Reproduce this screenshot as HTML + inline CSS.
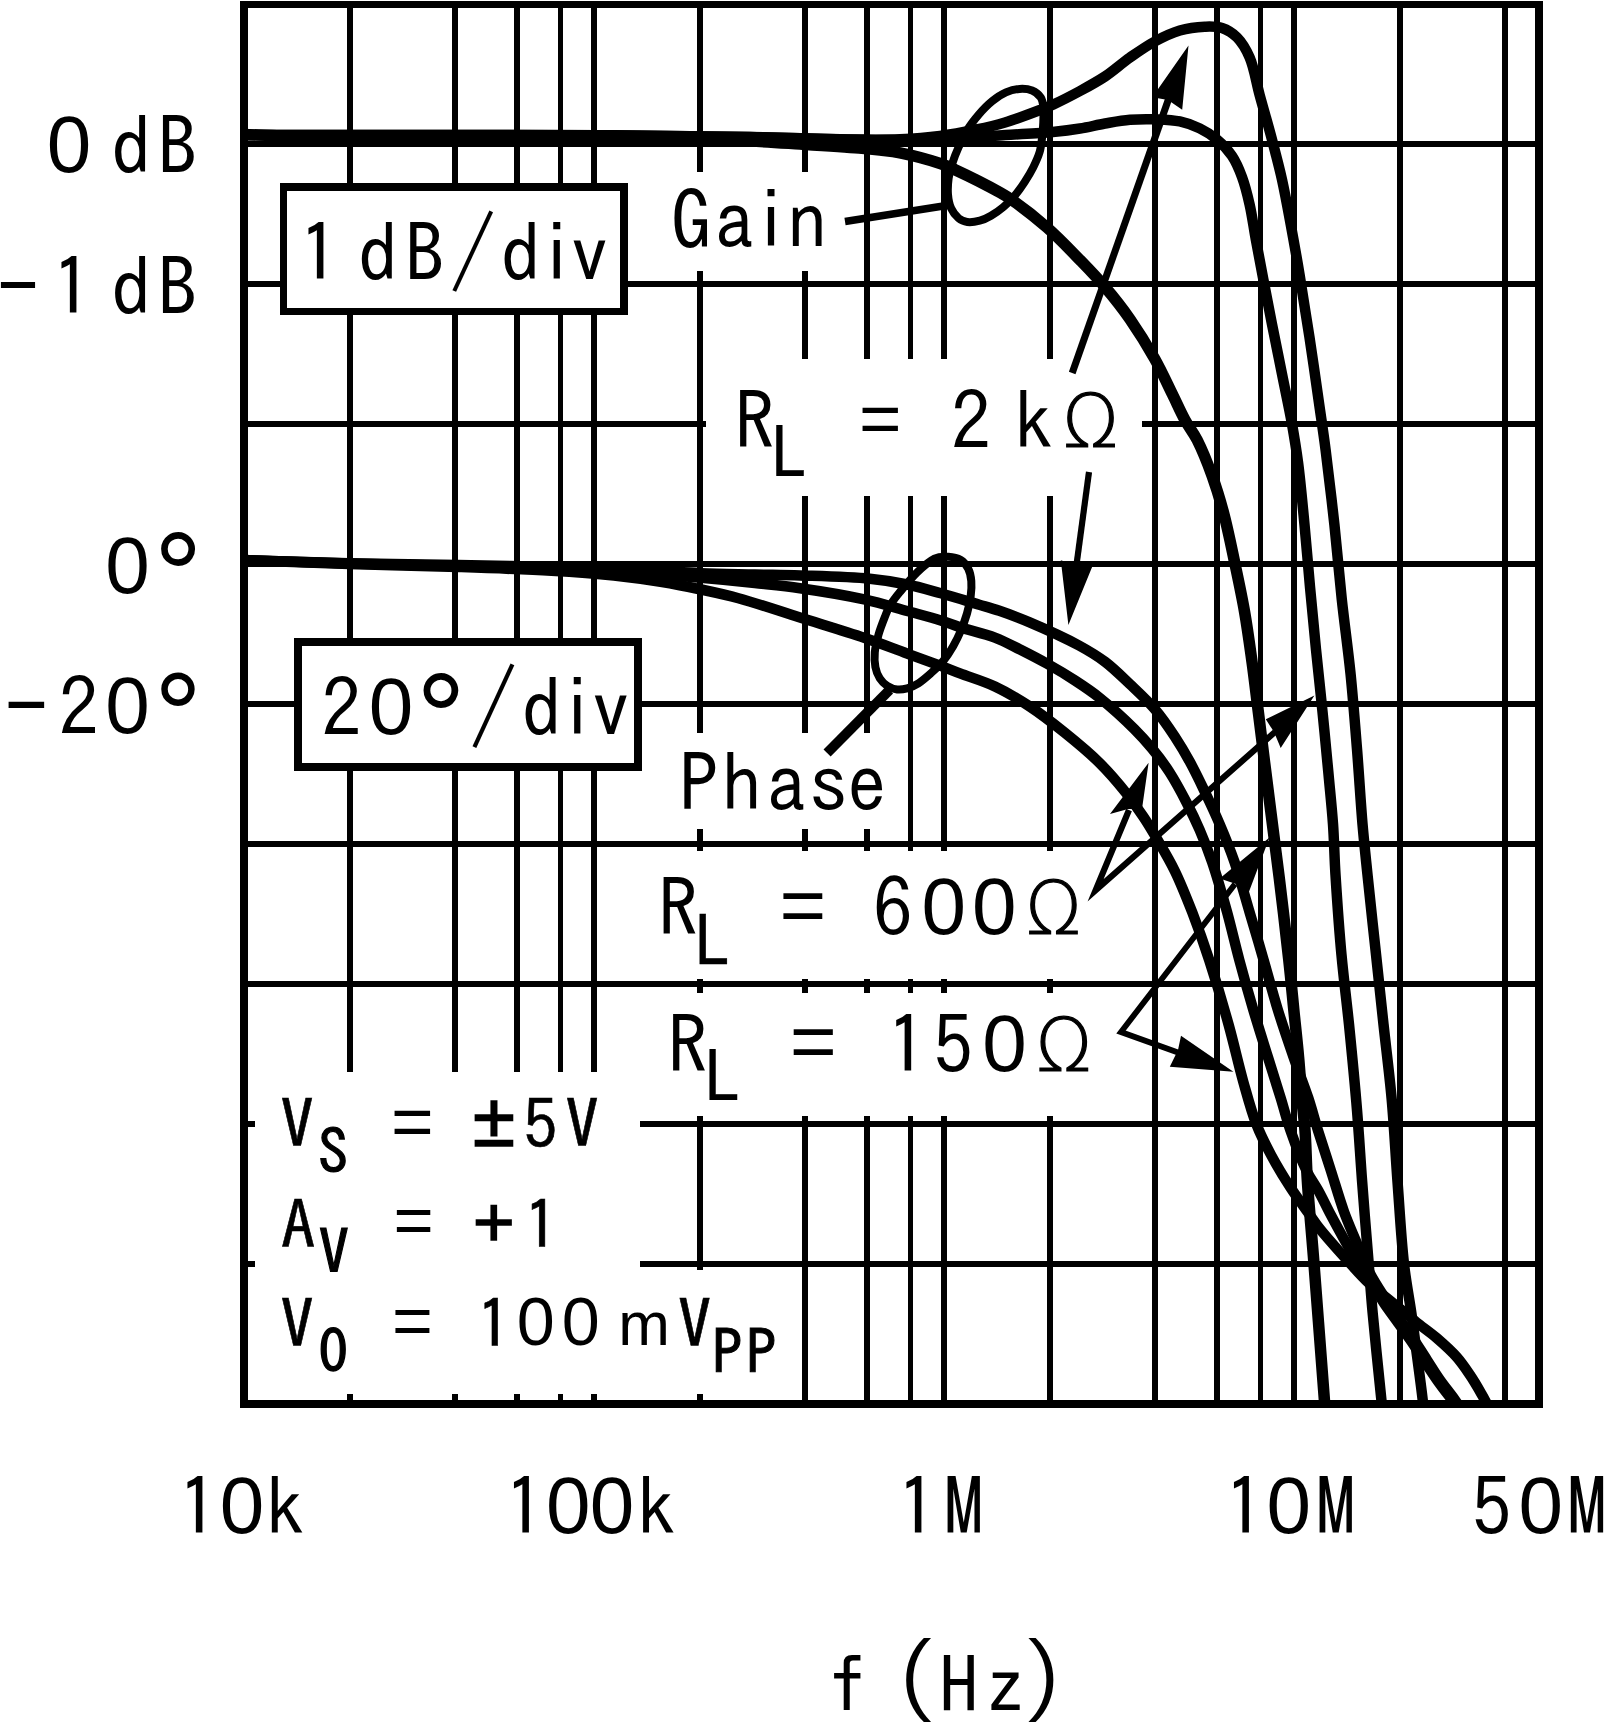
<!DOCTYPE html>
<html lang="en"><head><meta charset="utf-8"><title>Gain and Phase vs. Frequency</title>
<style>
html,body{margin:0;padding:0;background:#fff}
svg{display:block}
text{font-family:"Liberation Sans","DejaVu Sans",sans-serif;white-space:pre;fill:#000}
.s{font-family:"Liberation Sans","DejaVu Sans",sans-serif}
.i{font-family:"IPAGothic","DejaVu Sans Mono","Liberation Mono",monospace}
.m{font-family:"DejaVu Sans Mono","Liberation Mono",monospace}
.r{font-family:"Liberation Serif","DejaVu Serif",serif}
.l{font-family:"DejaVu Sans Light","DejaVu Sans","Liberation Sans",sans-serif;font-weight:200}
</style></head>
<body>
<svg width="1605" height="1724" viewBox="0 0 1605 1724">
<defs><clipPath id="plotclip"><rect x="244" y="4" width="1295" height="1400"/></clipPath></defs>
<rect width="1605" height="1724" fill="#fff"/>
<g id="grid" stroke="#000" stroke-width="5.8" fill="none" shape-rendering="crispEdges">
<line x1="349.7" y1="4" x2="349.7" y2="1404"/>
<line x1="455.0" y1="4" x2="455.0" y2="1404"/>
<line x1="516.7" y1="4" x2="516.7" y2="1404"/>
<line x1="560.4" y1="4" x2="560.4" y2="1404"/>
<line x1="594.3" y1="4" x2="594.3" y2="1404"/>
<line x1="699.7" y1="4" x2="699.7" y2="1404"/>
<line x1="805.0" y1="4" x2="805.0" y2="1404"/>
<line x1="866.7" y1="4" x2="866.7" y2="1404"/>
<line x1="910.4" y1="4" x2="910.4" y2="1404"/>
<line x1="944.3" y1="4" x2="944.3" y2="1404"/>
<line x1="1049.7" y1="4" x2="1049.7" y2="1404"/>
<line x1="1155.0" y1="4" x2="1155.0" y2="1404"/>
<line x1="1216.7" y1="4" x2="1216.7" y2="1404"/>
<line x1="1260.4" y1="4" x2="1260.4" y2="1404"/>
<line x1="1294.3" y1="4" x2="1294.3" y2="1404"/>
<line x1="1399.7" y1="4" x2="1399.7" y2="1404"/>
<line x1="1505.0" y1="4" x2="1505.0" y2="1404"/>
<line x1="244" y1="144" x2="1539" y2="144"/>
<line x1="244" y1="284" x2="1539" y2="284"/>
<line x1="244" y1="424" x2="1539" y2="424"/>
<line x1="244" y1="564" x2="1539" y2="564"/>
<line x1="244" y1="704" x2="1539" y2="704"/>
<line x1="244" y1="844" x2="1539" y2="844"/>
<line x1="244" y1="984" x2="1539" y2="984"/>
<line x1="244" y1="1124" x2="1539" y2="1124"/>
<line x1="244" y1="1264" x2="1539" y2="1264"/>
</g>
<g id="masks" fill="#fff" shape-rendering="crispEdges">
<rect x="668" y="171.5" width="164.0" height="99.5"/>
<rect x="706" y="359" width="436.0" height="137.0"/>
<rect x="678" y="732.6" width="215.0" height="96.4"/>
<rect x="640" y="851" width="470.0" height="128.0"/>
<rect x="640" y="993" width="470.0" height="123.0"/>
<rect x="255" y="1071.5" width="384.5" height="322.8"/>
<rect x="255" y="1270" width="537.0" height="124.3"/>
</g>
<g id="boxes" fill="#fff" stroke="#000" stroke-width="7.5" shape-rendering="crispEdges">
<rect x="283.7" y="187" width="340.3" height="124.7"/>
<rect x="298" y="642" width="340" height="125"/>
</g>
<g id="curves" fill="none" stroke="#000" stroke-linejoin="round" clip-path="url(#plotclip)">
<path d="M244.0 135.0C302.7 135.0 361.0 135.0 420.0 135.0C479.7 135.0 542.7 134.9 600.0 135.3C652.3 135.6 705.1 136.2 750.0 137.0C786.7 137.7 822.4 139.2 850.0 139.5C869.5 139.7 884.3 140.0 900.0 139.3C914.1 138.7 927.0 137.7 940.0 136.0C952.5 134.4 965.1 131.9 976.5 129.5C986.6 127.4 995.1 125.5 1005.0 122.5C1016.1 119.1 1031.1 113.4 1040.0 110.0C1045.5 107.9 1048.2 106.9 1053.3 104.5C1060.7 101.1 1071.3 95.7 1080.0 91.0C1088.5 86.4 1096.8 81.9 1105.0 76.5C1113.5 70.8 1121.6 63.4 1130.0 57.5C1138.2 51.8 1146.3 46.1 1154.8 41.5C1162.9 37.1 1171.3 33.0 1179.8 30.5C1188.0 28.1 1197.1 27.0 1204.7 26.7C1211.0 26.5 1216.6 26.2 1222.0 28.0C1227.4 29.8 1232.6 33.0 1237.0 37.4C1242.0 42.4 1246.1 49.4 1249.6 57.4C1254.1 67.7 1256.1 81.8 1259.6 94.8C1263.5 109.1 1268.2 125.2 1272.0 139.7C1275.6 153.4 1278.9 165.9 1282.0 179.6C1285.2 194.1 1287.9 209.1 1290.7 224.4C1293.7 240.6 1296.6 256.7 1299.5 274.3C1302.8 293.9 1306.1 315.1 1309.4 336.7C1313.0 360.1 1317.0 389.3 1320.0 410.0C1322.2 425.3 1323.6 434.5 1325.6 449.9C1328.3 470.9 1331.7 499.8 1334.4 524.7C1337.1 549.6 1339.1 574.6 1341.8 599.5C1344.5 624.4 1348.1 649.4 1350.6 674.3C1353.1 699.2 1355.0 724.1 1357.0 749.0C1359.0 774.0 1360.6 801.4 1362.5 824.0C1364.1 842.6 1365.6 856.2 1367.5 874.8C1369.8 897.3 1372.8 924.7 1375.5 949.6C1378.2 974.5 1380.8 999.5 1383.5 1024.4C1386.2 1049.4 1389.4 1073.8 1391.7 1099.3C1394.1 1125.7 1395.4 1152.8 1397.4 1180.0C1399.5 1207.7 1401.2 1239.7 1404.0 1264.0C1406.1 1282.7 1409.2 1297.8 1411.4 1313.4C1413.4 1327.4 1414.9 1339.6 1416.7 1353.4C1418.7 1368.3 1421.5 1389.5 1422.7 1400.0C1423.3 1405.3 1423.6 1408.0 1424.0 1412.0" stroke-width="10.5"/>
<path d="M244.0 135.0C302.7 135.0 361.0 135.0 420.0 135.0C479.7 135.0 542.7 134.9 600.0 135.3C652.3 135.6 705.1 136.2 750.0 137.0C786.7 137.7 822.4 139.0 850.0 139.5C869.5 139.8 882.6 140.2 900.0 140.0C919.1 139.8 941.4 138.9 960.0 138.0C976.2 137.2 990.3 136.0 1005.6 135.0C1021.2 134.0 1039.1 133.3 1052.7 132.0C1063.1 131.0 1071.1 130.0 1080.0 128.5C1088.5 127.1 1096.6 125.0 1105.0 123.5C1113.3 122.1 1121.7 120.5 1130.0 119.8C1138.3 119.1 1146.5 119.0 1154.8 119.3C1163.1 119.6 1172.0 119.7 1179.8 121.4C1186.9 122.9 1193.4 125.3 1199.7 128.4C1205.9 131.4 1211.9 135.2 1217.2 139.7C1222.7 144.3 1227.9 149.8 1232.0 155.9C1236.2 162.2 1239.2 169.4 1242.0 177.0C1245.1 185.4 1247.4 194.7 1249.6 204.5C1252.1 215.4 1253.6 227.4 1255.8 239.4C1258.2 252.3 1260.7 265.6 1263.3 279.3C1266.1 293.8 1269.0 308.9 1272.0 324.2C1275.2 340.4 1278.7 357.4 1282.0 374.0C1285.3 390.6 1289.2 408.4 1292.0 424.0C1294.4 437.6 1296.1 448.0 1298.0 462.3C1300.4 480.5 1302.5 503.9 1304.5 524.7C1306.5 545.5 1308.1 566.2 1310.0 587.0C1311.9 607.8 1313.9 628.6 1316.0 649.4C1318.1 670.2 1320.4 690.9 1322.5 711.7C1324.6 732.5 1326.7 754.4 1328.5 774.0C1330.1 791.6 1331.8 807.3 1333.0 824.0C1334.2 840.9 1334.3 856.0 1335.5 874.8C1337.0 898.5 1339.1 929.3 1341.5 955.0C1343.7 979.0 1346.5 1000.0 1349.0 1024.4C1351.7 1051.4 1354.8 1082.9 1357.0 1110.0C1359.0 1134.5 1360.2 1155.6 1362.0 1180.0C1364.0 1206.7 1366.7 1239.7 1368.7 1264.0C1370.2 1282.6 1371.0 1294.6 1372.7 1313.4C1375.0 1338.3 1379.8 1384.3 1381.4 1400.0C1382.0 1405.8 1382.2 1408.0 1382.6 1412.0" stroke-width="10.5"/>
<path d="M244.0 134.5C253.3 134.8 262.7 135.1 272.0 135.5C281.3 135.9 287.4 136.6 300.0 137.0C326.1 137.8 376.0 137.3 420.0 137.5C473.9 137.7 548.8 137.5 600.0 138.0C638.2 138.3 672.4 138.9 700.0 139.5C719.5 139.9 733.3 140.3 750.0 141.0C766.7 141.8 782.6 142.9 800.0 144.0C818.9 145.2 844.3 146.8 859.0 148.0C867.8 148.7 873.1 149.2 880.0 150.0C886.8 150.8 892.2 151.2 900.0 152.8C911.3 155.1 931.0 160.3 941.0 163.7C947.0 165.8 949.1 166.9 955.0 169.7C965.8 174.7 990.2 187.0 1000.0 192.5C1005.0 195.3 1006.4 196.1 1011.0 199.3C1019.7 205.3 1035.5 217.4 1047.0 227.5C1058.5 237.6 1069.9 249.6 1080.0 260.0C1089.0 269.3 1096.9 277.4 1105.0 287.0C1113.6 297.1 1122.0 307.7 1130.0 319.2C1138.6 331.6 1147.5 346.0 1154.8 359.0C1161.5 370.9 1167.0 383.2 1172.3 394.0C1176.9 403.3 1180.6 412.0 1185.0 420.0C1188.9 427.2 1193.2 432.2 1197.2 440.0C1202.3 450.1 1207.8 463.9 1212.2 476.0C1216.5 487.9 1219.9 499.1 1223.4 512.2C1227.5 527.4 1231.1 545.4 1234.6 562.1C1238.1 578.7 1241.7 595.3 1244.6 612.0C1247.5 628.6 1249.7 645.2 1252.0 661.8C1254.3 678.4 1256.2 695.1 1258.3 711.7C1260.4 728.3 1262.4 745.0 1264.5 761.6C1266.6 778.2 1268.5 793.6 1270.8 811.5C1273.5 832.5 1276.6 856.3 1279.5 880.0C1282.6 905.6 1286.3 936.6 1288.8 960.0C1290.8 978.2 1292.1 992.5 1293.7 1008.7C1295.3 1024.9 1297.2 1041.9 1298.6 1057.4C1299.9 1071.5 1300.7 1085.2 1301.8 1098.0C1302.8 1109.4 1304.1 1118.5 1305.0 1130.5C1306.1 1145.3 1306.1 1161.3 1307.3 1180.0C1308.8 1204.3 1311.6 1232.6 1314.0 1264.0C1317.1 1303.9 1322.8 1379.2 1324.4 1400.0C1324.9 1406.2 1325.0 1408.0 1325.3 1412.0" stroke-width="11.5"/>
<path d="M244.0 560.1C279.0 561.1 313.7 562.4 349.0 563.2C385.0 564.0 423.1 564.4 458.0 565.1C490.2 565.7 519.5 566.1 551.0 567.0C583.5 567.9 622.4 569.3 650.0 570.5C669.8 571.4 683.8 572.5 701.0 573.2C718.7 573.9 737.6 574.1 754.8 574.5C770.5 574.9 783.3 574.9 800.0 575.5C820.8 576.2 850.2 576.8 869.8 578.8C884.2 580.2 895.1 582.0 907.2 584.5C918.8 586.9 929.2 590.1 940.8 593.3C953.2 596.8 968.5 601.5 979.3 604.7C987.1 607.0 992.1 608.3 999.4 610.8C1008.4 613.9 1018.0 617.4 1029.1 622.1C1043.7 628.3 1065.2 638.0 1079.0 645.5C1089.3 651.1 1096.7 655.5 1105.0 661.8C1113.7 668.4 1121.8 676.5 1130.0 684.3C1138.4 692.3 1147.3 700.4 1154.8 709.2C1162.2 717.9 1168.8 727.6 1174.8 736.7C1180.3 745.1 1184.9 752.8 1189.7 761.6C1194.9 771.0 1199.8 781.3 1204.7 791.5C1209.8 802.1 1214.8 812.7 1219.6 824.0C1224.8 836.2 1229.9 848.6 1234.6 862.3C1239.9 877.7 1244.7 895.7 1249.6 912.2C1254.4 928.3 1259.0 944.0 1263.6 960.0C1268.3 976.1 1272.5 992.5 1277.5 1008.7C1282.5 1025.0 1288.3 1041.9 1293.7 1057.4C1298.6 1071.6 1304.1 1085.2 1308.3 1098.0C1312.0 1109.4 1314.5 1119.1 1318.0 1130.5C1322.0 1143.3 1326.7 1157.5 1331.0 1171.0C1335.3 1184.5 1339.6 1199.4 1344.0 1211.7C1347.8 1222.1 1351.4 1230.2 1355.5 1240.0C1360.0 1250.7 1364.7 1263.3 1370.0 1273.4C1374.7 1282.4 1379.9 1290.1 1385.0 1298.0C1389.9 1305.6 1395.1 1312.9 1400.0 1320.0C1404.7 1326.8 1409.5 1333.3 1414.0 1340.0C1418.5 1346.6 1422.7 1353.3 1427.0 1360.0C1431.3 1366.7 1435.4 1373.4 1440.0 1380.0C1444.7 1386.7 1450.8 1394.1 1455.0 1400.0C1458.2 1404.5 1460.3 1408.0 1463.0 1412.0" stroke-width="10.5"/>
<path d="M244.0 560.1C279.0 561.2 313.7 562.5 349.0 563.5C385.0 564.5 423.1 565.1 458.0 566.0C490.2 566.8 519.5 567.3 551.0 568.5C583.5 569.8 622.4 571.6 650.0 573.5C669.8 574.8 683.8 576.2 701.0 577.8C718.7 579.4 737.7 581.2 754.8 583.0C770.5 584.7 783.7 585.8 800.0 588.2C819.6 591.0 845.0 595.1 864.2 599.4C880.1 602.9 893.8 607.3 907.2 611.0C919.1 614.3 931.2 617.4 940.8 620.4C948.1 622.7 952.6 624.8 960.0 627.2C969.9 630.4 984.4 633.6 994.9 637.6C1004.1 641.1 1011.5 645.3 1020.0 649.5C1028.9 654.0 1038.2 658.7 1047.2 663.8C1056.5 669.0 1066.1 674.7 1075.0 680.5C1083.6 686.1 1090.9 690.9 1099.6 697.8C1110.5 706.5 1125.1 719.8 1134.5 729.2C1141.5 736.2 1146.3 741.5 1151.9 748.4C1157.9 755.7 1163.8 763.4 1169.4 772.0C1175.5 781.5 1181.6 792.9 1186.8 803.0C1191.6 812.2 1195.6 820.5 1199.7 830.0C1204.1 840.2 1208.1 850.3 1212.2 862.3C1217.2 877.0 1222.5 895.7 1227.1 912.2C1231.5 928.3 1235.0 944.0 1239.3 960.0C1243.6 976.2 1248.2 992.5 1253.0 1008.7C1257.8 1025.0 1263.2 1041.9 1268.0 1057.4C1272.4 1071.6 1276.8 1085.2 1280.7 1098.0C1284.2 1109.4 1286.5 1119.2 1290.5 1130.5C1295.0 1143.4 1301.4 1160.2 1306.7 1171.0C1310.5 1178.7 1314.3 1183.3 1318.0 1190.0C1322.1 1197.3 1325.7 1205.2 1330.0 1213.4C1334.9 1222.6 1340.8 1233.6 1346.0 1242.7C1350.6 1250.8 1354.9 1258.3 1359.4 1265.4C1363.6 1272.0 1367.9 1277.7 1372.0 1284.0C1376.1 1290.3 1379.7 1296.6 1384.0 1303.0C1388.6 1309.9 1394.1 1317.0 1399.0 1324.0C1403.9 1330.9 1408.9 1337.8 1413.5 1344.5C1417.9 1350.9 1421.7 1357.1 1426.0 1363.5C1430.4 1370.1 1434.9 1377.2 1439.5 1383.5C1443.8 1389.5 1448.6 1395.4 1452.5 1400.5C1455.7 1404.7 1458.2 1408.2 1461.0 1412.0" stroke-width="10.5"/>
<path d="M244.0 560.2C279.0 561.5 313.7 562.9 349.0 564.0C385.0 565.1 423.1 565.8 458.0 567.0C490.4 568.1 523.5 569.2 551.5 570.8C574.4 572.1 594.5 573.5 613.8 575.5C630.5 577.3 645.6 579.4 660.6 581.8C674.6 584.1 687.8 586.7 701.0 589.5C713.7 592.2 724.5 594.4 738.4 598.2C756.5 603.1 779.3 611.0 800.0 617.5C821.2 624.2 845.0 631.2 864.2 637.8C880.0 643.2 893.7 648.7 907.2 653.6C919.1 658.0 931.2 662.3 940.8 665.9C948.1 668.7 952.6 670.6 960.0 673.4C969.9 677.2 983.5 681.1 994.9 686.5C1006.8 692.1 1018.4 699.0 1029.8 706.5C1041.7 714.3 1053.2 723.4 1064.7 732.7C1076.5 742.2 1089.1 752.6 1099.6 763.0C1109.3 772.6 1118.1 783.0 1125.7 792.5C1132.3 800.8 1137.8 808.5 1143.2 816.5C1148.3 824.0 1152.3 830.9 1157.1 839.1C1162.7 848.8 1169.2 859.5 1174.8 871.0C1181.0 883.7 1186.6 897.9 1192.2 912.2C1198.1 927.5 1203.6 942.8 1209.2 960.0C1215.7 979.9 1222.9 1004.0 1228.7 1025.0C1234.1 1044.5 1238.4 1064.3 1243.3 1081.8C1247.6 1097.0 1251.3 1111.2 1256.3 1124.0C1260.7 1135.3 1265.5 1144.6 1271.0 1154.9C1276.8 1165.7 1283.7 1177.1 1290.4 1187.4C1296.7 1197.1 1304.4 1207.4 1309.9 1215.0C1313.8 1220.5 1315.7 1223.6 1320.0 1229.0C1326.6 1237.3 1338.0 1250.0 1346.6 1259.5C1354.4 1268.1 1361.7 1276.5 1369.2 1283.5C1375.7 1289.6 1382.7 1294.6 1388.7 1299.5C1393.9 1303.8 1398.6 1307.6 1403.4 1311.5C1408.0 1315.2 1411.8 1318.6 1416.7 1322.5C1422.7 1327.3 1430.2 1332.4 1436.7 1338.0C1443.5 1343.9 1451.0 1350.5 1456.7 1357.0C1461.9 1362.9 1465.8 1368.8 1470.0 1375.0C1474.3 1381.3 1478.9 1389.4 1482.0 1394.8C1484.1 1398.4 1485.4 1401.0 1487.0 1404.0C1488.4 1406.7 1489.7 1409.3 1491.0 1412.0" stroke-width="10.5"/>
</g>
<g id="annot" stroke="#000" fill="none">
<path d="M1019.6 88.9C1024.0 88.6 1028.6 89.1 1032.1 90.5C1035.6 91.9 1038.9 94.6 1040.8 97.4C1042.7 100.2 1042.9 103.2 1043.3 107.4C1043.7 111.6 1043.5 117.3 1043.3 122.3C1043.1 127.3 1042.7 132.3 1042.1 137.3C1041.5 142.3 1041.1 147.2 1039.6 152.2C1038.1 157.2 1035.8 162.2 1033.3 167.2C1030.8 172.2 1027.7 177.3 1024.6 182.1C1021.5 186.9 1018.1 191.7 1014.6 195.8C1011.1 200.0 1007.3 203.7 1003.4 207.0C999.5 210.3 994.9 213.5 991.0 215.8C987.1 218.1 983.8 219.7 979.8 220.7C975.8 221.7 970.8 222.4 967.3 222.0C963.8 221.6 961.3 220.6 958.6 218.3C955.9 216.0 952.9 212.2 951.1 208.3C949.3 204.4 948.4 199.6 948.0 194.6C947.6 189.6 947.9 183.6 948.6 178.4C949.3 173.2 950.6 168.6 952.3 163.4C954.0 158.2 956.1 152.8 958.6 147.2C961.1 141.6 964.0 135.2 967.3 129.8C970.6 124.4 974.4 119.6 978.5 114.8C982.6 110.0 987.6 104.8 992.2 101.1C996.8 97.4 1001.3 94.4 1005.9 92.4C1010.5 90.4 1015.2 89.2 1019.6 88.9Z" stroke-width="8"/>
<path d="M948.3 556.8C943.9 556.6 939.8 556.1 934.6 558.7C929.4 561.3 922.9 566.8 917.1 572.4C911.3 578.0 904.3 586.7 899.7 592.3C895.1 597.9 892.2 601.8 889.7 606.0C887.2 610.2 886.6 612.5 884.7 617.3C882.8 622.1 880.1 628.9 878.5 634.7C876.9 640.5 875.3 646.7 874.8 652.1C874.3 657.5 874.6 662.7 875.4 667.1C876.2 671.5 877.8 675.2 879.8 678.3C881.8 681.4 884.3 683.9 887.2 685.8C890.1 687.7 893.9 689.1 897.2 689.5C900.5 689.9 903.7 689.3 907.2 688.3C910.7 687.3 914.5 685.8 918.4 683.3C922.3 680.8 926.6 677.0 930.8 673.3C934.9 669.6 939.5 665.5 943.3 660.9C947.0 656.3 950.4 650.9 953.3 645.9C956.2 640.9 958.4 636.4 960.7 631.0C963.0 625.6 965.3 619.3 967.0 613.5C968.7 607.7 970.0 601.5 970.7 596.1C971.4 590.7 971.7 585.7 971.3 581.1C970.9 576.5 970.0 572.2 968.2 568.7C966.4 565.2 964.0 561.9 960.7 559.9C957.4 557.9 952.6 557.0 948.3 556.8Z" stroke-width="8"/>
<line x1="845" y1="221.5" x2="945" y2="205.8" stroke-width="7.5"/>
<line x1="827.1" y1="753.1" x2="889.5" y2="690" stroke-width="10"/>
<line x1="1072.2" y1="373" x2="1170" y2="95" stroke-width="7"/>
<line x1="1089" y1="472" x2="1076.6" y2="564" stroke-width="6.2"/>
<polyline points="1129.0,810.0 1095.6,890.3 1275.0,732.0" stroke-width="6.2" stroke-linejoin="miter" stroke-miterlimit="10"/>
<polyline points="1235.0,884.0 1121.0,1032.0 1178.0,1052.5" stroke-width="5.8" stroke-linejoin="miter" stroke-miterlimit="10"/>
</g>
<g id="arrowheads" fill="#000" stroke="none">
<polygon points="1188.5,45.4 1152.3,97.3 1168.0,100.0 1182.2,109.7"/>
<polygon points="1068.4,624.9 1060.8,560.2 1076.5,565.5 1092.1,567.0"/>
<polygon points="1148.6,762.8 1110.0,814.0 1128.0,809.0 1142.0,809.0"/>
<polygon points="1314.4,695.5 1265.8,719.2 1274.0,732.0 1280.7,747.9"/>
<polygon points="1269.5,837.4 1219.7,878.6 1236.0,884.0 1248.3,893.5"/>
<polygon points="1233.4,1071.8 1181.0,1035.7 1178.0,1050.0 1169.8,1066.8"/>
</g>
<g id="frame" fill="#000" shape-rendering="crispEdges"><rect x="239.9" y="1" width="8.1" height="1407"/><rect x="1535.1" y="1" width="7.7" height="1407"/><rect x="239.9" y="1" width="1302.9" height="6.7"/><rect x="239.9" y="1400" width="1302.9" height="8"/></g>
<g id="labels" fill="#000">
<text><tspan class="s" font-size="80.0" y="172.0" x="46.8 78.9">0 </tspan><tspan class="i" font-size="80.0" y="176.0" x="111.0 157.5">dB</tspan></text>
<text><tspan class="i" font-size="85.0" y="316.6" x="-3.2">-</tspan><tspan class="i" font-size="80.0" y="317.0" x="52.0 81.5 111.0 157.5">1 dB</tspan></text>
<text><tspan class="s" font-size="80.0" y="592.7" x="105.3">0</tspan><tspan class="i" font-size="151.6" y="657.7" x="153.2">°</tspan></text>
<text><tspan class="i" font-size="88.5" y="738.0" x="4.3">-</tspan><tspan class="i" font-size="80.0" y="737.0" x="58.7">2</tspan><tspan class="s" font-size="80.0" y="733.0" x="105.3">0</tspan><tspan class="i" font-size="149.3" y="795.9" x="153.5">°</tspan></text>
<text><tspan class="i" font-size="80.0" y="282.8" x="299.1 328.4 357.8 404.8">1 dB</tspan><tspan class="i" font-size="92.2" y="285.8" x="449.8">/</tspan><tspan class="i" font-size="80.0" y="282.8" x="500.4 536.7 569.6">div</tspan></text>
<text><tspan class="i" font-size="80.0" y="738.3" x="321.4">2</tspan><tspan class="s" font-size="80.0" y="734.3" x="368.7">0</tspan><tspan class="i" font-size="155.1" y="801.5" x="415.6">°</tspan><tspan class="i" font-size="94.9" y="741.6" x="469.8">/</tspan><tspan class="i" font-size="80.0" y="738.3" x="521.4 557.3 590.8">div</tspan></text>
<text><tspan class="i" font-size="80.0" y="1536.5" x="178.1">1</tspan><tspan class="s" font-size="80.0" y="1532.5" x="219.7">0</tspan><tspan class="i" font-size="80.0" y="1536.5" x="265.4">k</tspan></text>
<text><tspan class="i" font-size="80.0" y="1536.5" x="504.5">1</tspan><tspan class="s" font-size="80.0" y="1532.5" x="546.1 589.8">00</tspan><tspan class="i" font-size="80.0" y="1536.5" x="636.7">k</tspan></text>
<text><tspan class="i" font-size="80.0" y="1536.5" x="896.9 943.8">1M</tspan></text>
<text><tspan class="i" font-size="80.0" y="1536.5" x="1224.6">1</tspan><tspan class="s" font-size="80.0" y="1532.5" x="1266.6">0</tspan><tspan class="i" font-size="80.0" y="1536.5" x="1315.8">M</tspan></text>
<text><tspan class="i" font-size="80.0" y="1536.5" x="1471.6">5</tspan><tspan class="s" font-size="80.0" y="1532.5" x="1518.4">0</tspan><tspan class="i" font-size="80.0" y="1536.5" x="1567.0">M</tspan></text>
<text><tspan class="i" font-size="79.3" y="1713.7" x="827.7 859.8">f </tspan><tspan class="i" font-size="92.5" y="1715.9" x="891.8">(</tspan><tspan class="i" font-size="79.3" y="1713.7" x="939.0 985.4">Hz</tspan><tspan class="i" font-size="92.5" y="1715.9" x="1021.4">)</tspan></text>
<text><tspan class="i" font-size="80.0" y="249.5" x="670.7 714.2 750.9 787.0">Gain</tspan></text>
<text><tspan class="i" font-size="80.0" y="812.7" x="678.7 721.5 766.2 808.6 846.8">Phase</tspan></text>
<text><tspan class="i" font-size="80.0" y="450.5" x="734.4">R</tspan><tspan class="i" font-size="72.4" stroke="#000" stroke-width="0.2" y="480.2" x="771.2 815.1">L </tspan><tspan class="s" font-size="72.8" y="443.0" x="859.0 904.9">= </tspan><tspan class="i" font-size="80.0" y="450.5" x="950.9 982.4 1013.9">2 k</tspan><tspan class="l" font-size="73.4" stroke="#000" stroke-width="1.2" y="446.7" x="1062.4">Ω</tspan></text>
<text><tspan class="i" font-size="80.0" y="937.5" x="658.1">R</tspan><tspan class="i" font-size="71.7" stroke="#000" stroke-width="0.3" y="967.6" x="694.7 737.1">L </tspan><tspan class="s" font-size="80.0" y="931.5" x="779.6 826.2">= </tspan><tspan class="i" font-size="80.0" y="937.5" x="872.8">6</tspan><tspan class="s" font-size="80.0" y="933.5" x="921.5 972.1">00</tspan><tspan class="l" font-size="73.2" stroke="#000" stroke-width="1.2" y="933.5" x="1025.5">Ω</tspan></text>
<text><tspan class="i" font-size="80.0" y="1075.2" x="667.6">R</tspan><tspan class="i" font-size="72.6" stroke="#000" stroke-width="0.2" y="1103.7" x="704.5 747.1">L </tspan><tspan class="s" font-size="80.6" y="1068.0" x="789.8 838.2">= </tspan><tspan class="i" font-size="80.0" y="1075.2" x="886.7 933.1">15</tspan><tspan class="s" font-size="80.0" y="1071.2" x="982.3">0</tspan><tspan class="l" font-size="73.4" stroke="#000" stroke-width="1.2" y="1071.2" x="1035.8">Ω</tspan></text>
<text><tspan class="i" font-size="68.3" stroke="#000" stroke-width="0.6" y="1148.9" x="280.1">V</tspan><tspan class="i" font-size="60.0" stroke="#000" stroke-width="1.2" y="1174.2" x="318.0 354.5">S </tspan><tspan class="s" font-size="73.1" y="1145.7" x="391.0 431.9">= </tspan><tspan class="s" font-size="76.3" stroke="#000" stroke-width="1.6" y="1145.5" x="472.9">±</tspan><tspan class="i" font-size="68.3" stroke="#000" stroke-width="0.6" y="1148.9" x="523.2 564.9">5V</tspan></text>
<text><tspan class="i" font-size="68.3" stroke="#000" stroke-width="0.6" y="1250.1" x="281.0">A</tspan><tspan class="i" font-size="62.3" stroke="#000" stroke-width="1.1" y="1274.9" x="318.3 356.0">V </tspan><tspan class="s" font-size="68.8" y="1244.4" x="393.6 433.3">= </tspan><tspan class="s" font-size="71.2" stroke="#000" stroke-width="1.6" y="1246.1" x="473.0">+</tspan><tspan class="i" font-size="68.3" stroke="#000" stroke-width="0.6" y="1250.1" x="524.1">1</tspan></text>
<text><tspan class="i" font-size="68.3" stroke="#000" stroke-width="0.6" y="1348.8" x="280.1">V</tspan><tspan class="i" font-size="58.9" stroke="#000" stroke-width="1.3" y="1373.4" x="318.6 355.3">O </tspan><tspan class="s" font-size="70.0" y="1344.8" x="391.9 434.3">= </tspan><tspan class="i" font-size="68.3" stroke="#000" stroke-width="0.6" y="1348.8" x="476.7">1</tspan><tspan class="s" font-size="68.3" y="1345.4" x="516.8 561.8 590.0">00 </tspan><tspan class="s" font-size="62.0" y="1345.4" x="618.2">m</tspan><tspan class="i" font-size="68.3" stroke="#000" stroke-width="0.6" y="1348.8" x="677.4">V</tspan><tspan class="i" font-size="61.3" stroke="#000" stroke-width="1.1" y="1374.7" x="712.1 746.1">PP</tspan></text>
</g>
</svg>
</body></html>
